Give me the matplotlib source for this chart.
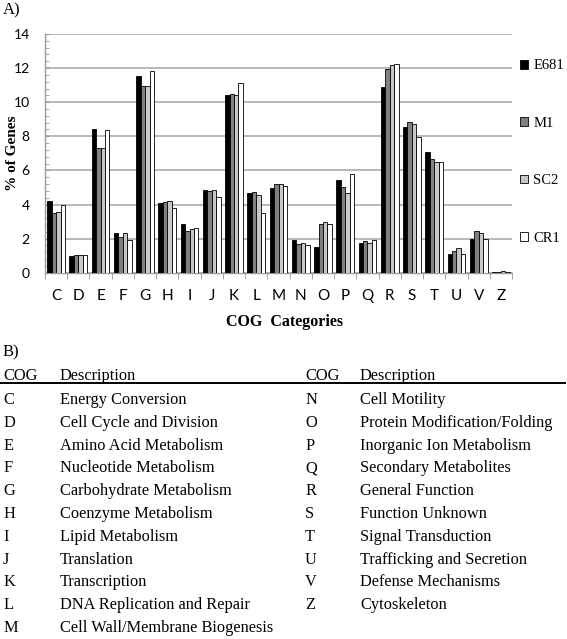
import matplotlib.pyplot as plt
import matplotlib.lines as mlines
import numpy as np

# COG categories and % of genes per strain
categories = ['C', 'D', 'E', 'F', 'G', 'H', 'I', 'J', 'K', 'L', 'M',
              'N', 'O', 'P', 'Q', 'R', 'S', 'T', 'U', 'V', 'Z']
E681 = [4.22, 0.98, 8.43, 2.30, 11.53, 4.09, 2.87, 4.87, 10.45, 4.68, 4.97,
        1.93, 1.49, 5.46, 1.77, 10.90, 8.57, 7.05, 1.12, 1.96, 0.04]
M1 = [3.50, 1.04, 7.33, 2.12, 10.94, 4.15, 2.44, 4.79, 10.51, 4.73, 5.23,
      1.69, 2.85, 5.03, 1.85, 11.96, 8.86, 6.68, 1.28, 2.42, 0.04]
SC2 = [3.56, 1.04, 7.33, 2.30, 10.94, 4.22, 2.55, 4.87, 10.43, 4.54, 5.23,
       1.77, 2.99, 4.68, 1.77, 12.18, 8.70, 6.52, 1.47, 2.34, 0.08]
CR1 = [3.95, 1.04, 8.35, 1.93, 11.81, 3.79, 2.63, 4.44, 11.10, 3.52, 5.11,
       1.61, 2.85, 5.76, 1.93, 12.26, 7.98, 6.52, 1.12, 1.96, 0.04]
series_names = ['E681', 'M1', 'SC2', 'CR1']

# table B
left_codes = ['C', 'D', 'E', 'F', 'G', 'H', 'I', 'J', 'K', 'L', 'M']
left_desc = ['Energy Conversion', 'Cell Cycle and Division', 'Amino Acid Metabolism',
             'Nucleotide Metabolism', 'Carbohydrate Metabolism', 'Coenzyme Metabolism',
             'Lipid Metabolism', 'Translation', 'Transcription',
             'DNA Replication and Repair', 'Cell Wall/Membrane Biogenesis']
right_codes = ['N', 'O', 'P', 'Q', 'R', 'S', 'T', 'U', 'V', 'Z']
right_desc = ['Cell Motility', 'Protein Modification/Folding', 'Inorganic Ion Metabolism',
              'Secondary Metabolites', 'General Function', 'Function Unknown',
              'Signal Transduction', 'Trafficking and Secretion', 'Defense Mechanisms',
              'Cytoskeleton']

W, H = 567, 639
SERIF = 'Liberation Serif'
SANS = 'Lato'

def fx(px):
    return px / W

def fy(py):
    return 1 - py / H

fig = plt.figure(figsize=(W / 100, H / 100), dpi=100)
ax_l, ax_r = 45, 512
ax = fig.add_axes([fx(ax_l), fy(272.7), fx(ax_r - ax_l), (272.7 - 34) / H])

colors = ['black', '#808080', '#c8c8c8', 'white']
x = np.arange(len(categories))
bw = 0.2
bars = []
for i, (vals, name) in enumerate(zip([E681, M1, SC2, CR1], series_names)):
    b = ax.bar(x + (i - 1.5) * bw, vals, width=bw, color=colors[i],
               edgecolor='black', linewidth=0.6, label=name, zorder=3)
    bars.append(b)

ax.set_xlim(-0.5, len(categories) - 0.5)
ax.set_ylim(0, 14)
ax.set_yticks(range(0, 15, 2))
ax.set_yticks(np.arange(0, 14.01, 0.4), minor=True)
ax.yaxis.grid(True, color='#a6a6a6', linewidth=1.1)
ax.set_axisbelow(True)
for s in ['top', 'right']:
    ax.spines[s].set_visible(False)
for s in ['left', 'bottom']:
    ax.spines[s].set_color('#9a9a9a')
    ax.spines[s].set_linewidth(1.0)

ax.set_xticks(x)
ax.set_xticklabels(categories, family=SANS, fontsize=11)
ax.set_xticks(np.arange(-0.5, len(categories)), minor=True)
ax.tick_params(axis='x', which='major', length=0, pad=12)
ax.tick_params(axis='x', which='minor', length=4, direction='out', color='#9a9a9a')
ax.tick_params(axis='y', which='both', direction='in', length=3, color='#9a9a9a')
ax.tick_params(axis='y', which='major', pad=11)
for t in ax.get_yticklabels():
    t.set_family(SANS)
    t.set_fontsize(10)

ax.set_ylabel('% of Genes', family=SERIF, fontsize=11, fontweight='bold')
ax.yaxis.set_label_coords((19 - ax_l) / (ax_r - ax_l), 0.5)
fig.text(fx(285), fy(322), 'COG  Categories', family=SERIF, fontsize=11.5,
         fontweight='bold', ha='center', va='center')

leg = ax.legend(handles=bars, loc='upper left', bbox_to_anchor=(fx(513), fy(52)),
                bbox_transform=fig.transFigure, frameon=False, borderpad=0,
                handlelength=0.55, handleheight=0.55, handletextpad=0.35,
                labelspacing=3.05, prop={'family': SERIF, 'size': 10.5})

fig.text(fx(3), fy(14), 'A)', family=SERIF, fontsize=12, ha='left', va='baseline')

# part B table
fig.text(fx(3), fy(356), 'B)', family=SERIF, fontsize=12, ha='left', va='baseline')
for cx, dx in [(3, 60), (305, 360)]:
    fig.text(fx(cx), fy(380), 'COG', family=SERIF, fontsize=11.8, va='baseline')
    fig.text(fx(dx), fy(380), 'Description', family=SERIF, fontsize=11.8, va='baseline')
fig.add_artist(mlines.Line2D([0, fx(565)], [fy(383), fy(383)], color='black',
                             linewidth=1.4, transform=fig.transFigure))
row_h = 22.8
for i, (c, d) in enumerate(zip(left_codes, left_desc)):
    yb = fy(404 + i * row_h)
    fig.text(fx(3), yb, c, family=SERIF, fontsize=11.8, va='baseline')
    fig.text(fx(60), yb, d, family=SERIF, fontsize=11.8, va='baseline')
for i, (c, d) in enumerate(zip(right_codes, right_desc)):
    yb = fy(404 + i * row_h)
    fig.text(fx(305), yb, c, family=SERIF, fontsize=11.8, va='baseline')
    fig.text(fx(360), yb, d, family=SERIF, fontsize=11.8, va='baseline')

fig.savefig('out.png', dpi=100)
